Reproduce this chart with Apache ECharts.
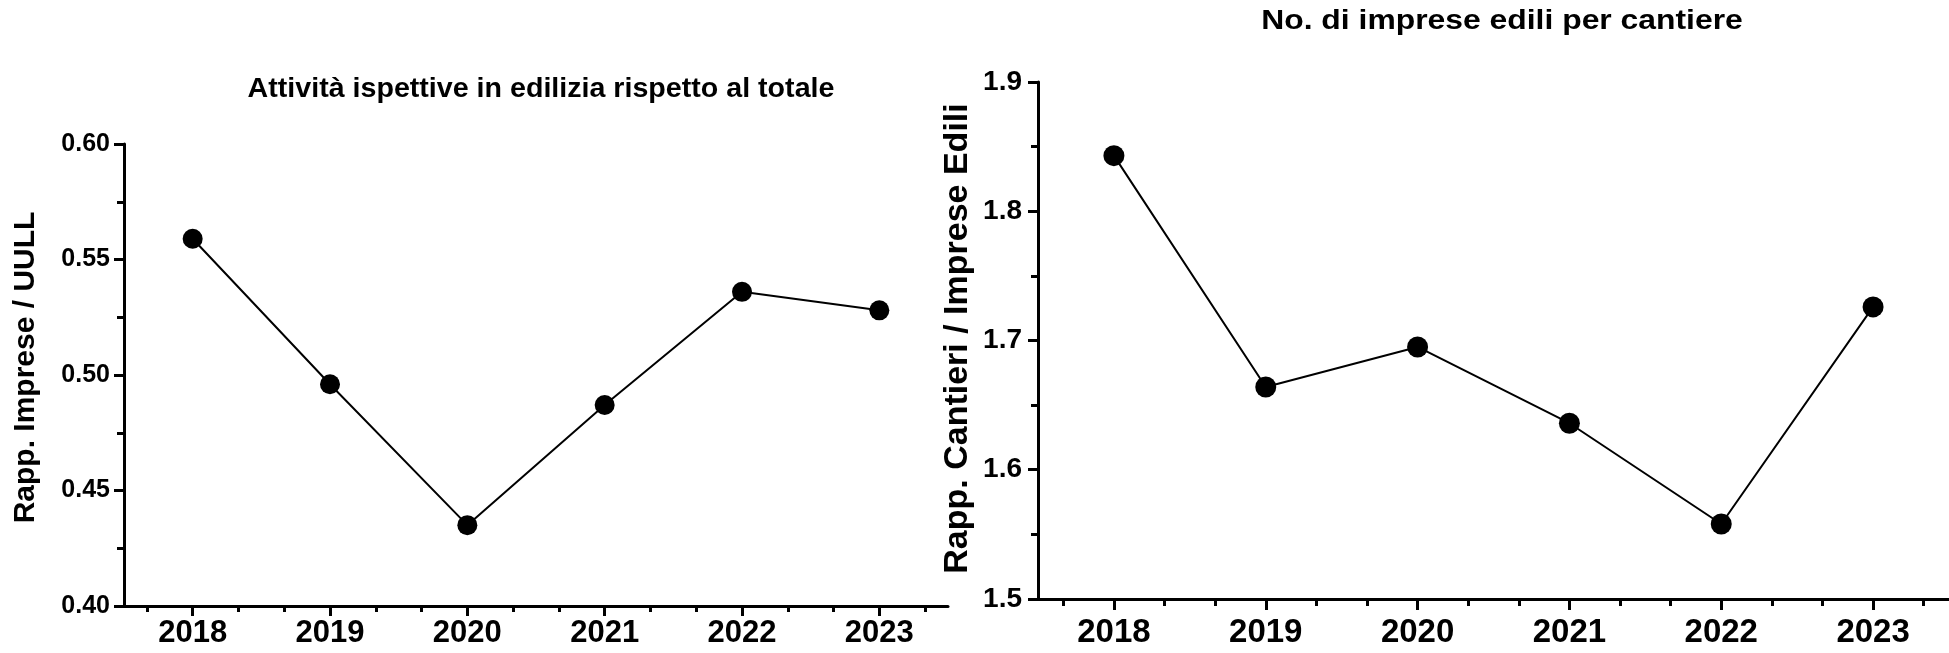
<!DOCTYPE html>
<html>
<head>
<meta charset="utf-8">
<script src="https://cdn.jsdelivr.net/npm/echarts@6/dist/echarts.min.js"></script>
<style>
html,body{margin:0;padding:0;background:#fff;}
#chart{width:1949px;height:653px;}
</style>
</head>
<body>
<div id="chart"></div>
<script>
// ---- data ----
var years = [2018, 2019, 2020, 2021, 2022, 2023];
var rappImpreseUULL = [0.559, 0.496, 0.435, 0.487, 0.536, 0.528];
var rappCantieriImprese = [1.843, 1.664, 1.695, 1.636, 1.558, 1.726];
var leftTicks = [0.40, 0.45, 0.50, 0.55, 0.60];
var rightTicks = [1.5, 1.6, 1.7, 1.8, 1.9];
var titleLeft = 'Attività ispettive in edilizia rispetto al totale';
var titleRight = 'No. di imprese edili per cantiere';
var yNameLeft = 'Rapp. Imprese / UULL';
var yNameRight = 'Rapp. Cantieri / Imprese Edili';

var FONT = '"Liberation Sans", Arial, Helvetica, sans-serif';
var minorX = [];
years.forEach(function (y) { minorX.push(y - 1 / 3, y + 1 / 3); });
function pairs(vals) { return years.map(function (y, i) { return [y, vals[i]]; }); }

function xAxes(grid, labelSize, margin, majorLen, minorLen) {
  var xmin = years[0] - 0.5, xmax = years[years.length - 1] + 0.5;
  return [{
    type: 'value', gridIndex: grid, position: 'bottom', min: xmin, max: xmax,
    axisLine: { show: true, lineStyle: { color: '#000', width: 3 } },
    axisTick: { show: true, customValues: years, length: majorLen, lineStyle: { color: '#000', width: 3 } },
    axisLabel: { show: true, customValues: years, margin: margin, color: '#000', fontFamily: FONT, fontWeight: 'bold', fontSize: labelSize,
      formatter: function (v) { return String(Math.round(v)); } },
    splitLine: { show: false }
  }, {
    type: 'value', gridIndex: grid, position: 'bottom', min: xmin, max: xmax,
    axisLine: { show: false },
    axisTick: { show: true, customValues: minorX, length: minorLen, lineStyle: { color: '#000', width: 3 } },
    axisLabel: { show: false },
    splitLine: { show: false }
  }];
}

function yAxis(grid, ticks, digits, labelSize, margin, name, nameSize, nameGap, pad) {
  return {
    type: 'value', gridIndex: grid, min: ticks[0], max: ticks[ticks.length - 1],
    interval: Math.round((ticks[1] - ticks[0]) * 1000) / 1000,
    name: name, nameLocation: 'middle', nameRotate: 90, nameGap: nameGap,
    nameTextStyle: { color: '#000', fontFamily: FONT, fontWeight: 'bold', fontSize: nameSize, padding: pad },
    axisLine: { show: true, lineStyle: { color: '#000', width: 3 } },
    axisTick: { show: true, length: 10, lineStyle: { color: '#000', width: 3 } },
    minorTick: { show: true, splitNumber: 2, length: 7, lineStyle: { color: '#000', width: 3 } },
    axisLabel: { margin: margin, color: '#000', fontFamily: FONT, fontWeight: 'bold', fontSize: labelSize,
      formatter: function (v) { return v.toFixed(digits); } },
    splitLine: { show: false }, minorSplitLine: { show: false }
  };
}

var chart = echarts.init(document.getElementById('chart'), null, { renderer: 'canvas' });
var xa = xAxes(0, 31, 12, 10, 6).concat(xAxes(1, 33, 17, 11, 7));
var option = {
  backgroundColor: '#fff',
  animation: false,
  graphic: [
    { type: 'text', x: 541, y: 90, scaleX: 1.06, style: { text: titleLeft, textAlign: 'center', textVerticalAlign: 'middle',
      font: 'bold 27px ' + FONT, fill: '#000' } },
    { type: 'text', x: 1502, y: 22, scaleX: 1.18, style: { text: titleRight, textAlign: 'center', textVerticalAlign: 'middle',
      font: 'bold 27px ' + FONT, fill: '#000' } }
  ],
  grid: [
    { left: 124, top: 144, width: 824, height: 462, containLabel: false },
    { left: 1038, top: 82, width: 928, height: 517, containLabel: false }
  ],
  xAxis: xa,
  yAxis: [
    yAxis(0, leftTicks, 2, 25, 14, yNameLeft, 30, 83, [0, 0, 0, 15]),
    yAxis(1, rightTicks, 1, 28, 16, yNameRight, 34, 63, [0, 0, 0, 4])
  ],
  series: [
    { type: 'line', xAxisIndex: 0, yAxisIndex: 0, data: pairs(rappImpreseUULL),
      symbol: 'circle', symbolSize: 20, itemStyle: { color: '#000' }, lineStyle: { color: '#000', width: 2 } },
    { type: 'line', xAxisIndex: 2, yAxisIndex: 1, data: pairs(rappCantieriImprese),
      symbol: 'circle', symbolSize: 21, itemStyle: { color: '#000' }, lineStyle: { color: '#000', width: 2 } }
  ]
};
chart.setOption(option);
</script>
</body>
</html>
